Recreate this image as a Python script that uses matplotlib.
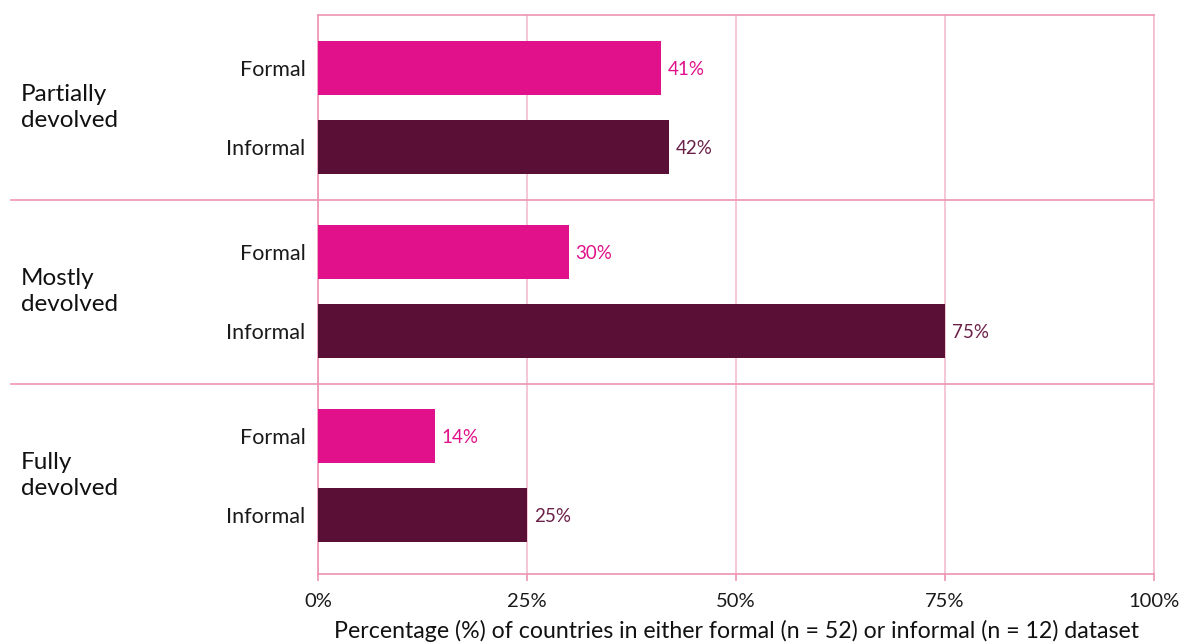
import matplotlib.pyplot as plt
import numpy as np

plt.rcParams['font.family'] = ['Lato', 'DejaVu Sans']

# data
groups = ['Partially\ndevolved', 'Mostly\ndevolved', 'Fully\ndevolved']
formal = [41, 30, 14]
informal = [42, 75, 25]
xticks = [0, 25, 50, 75, 100]
xlabel = 'Percentage (%) of countries in either formal (n = 52) or informal (n = 12) dataset'

c_formal = '#E0118A'
c_informal = '#5A1036'
c_line = '#EE93B2'
c_grid = '#F5BCCF'

fig = plt.figure(figsize=(11.8, 6.42), dpi=100)
ax = fig.add_axes([318 / 1180, 1 - 574 / 642, 836 / 1180, 559 / 642])

g = np.arange(len(groups))
off = 0.215
h = 0.293
ax.barh(g - off, formal, height=h, color=c_formal, zorder=3)
ax.barh(g + off, informal, height=h, color=c_informal, zorder=3)

# value labels
for i in g:
    ax.text(formal[i] + 0.8, i - off + 0.01, f'{formal[i]}%', va='center', ha='left',
            fontsize=13.5, color=c_formal)
    ax.text(informal[i] + 0.8, i + off + 0.01, f'{informal[i]}%', va='center', ha='left',
            fontsize=13.5, color='#6A2048')

ax.set_ylim(2.535, -0.503)
ax.set_xlim(0, 100)

# y tick labels Formal / Informal
yt = np.concatenate([g - off, g + off])
ax.set_yticks(yt)
ax.set_yticklabels(['Formal'] * len(g) + ['Informal'] * len(g), fontsize=15.5, color='#1a1a1a')
ax.tick_params(axis='y', length=0, pad=9)

# group labels
for i, name in enumerate(groups):
    ax.text(-0.355, i, name, transform=ax.get_yaxis_transform(), ha='left', va='center',
            fontsize=17.5, color='#111111', linespacing=1.25)

# separators between groups
for i in range(len(groups) - 1):
    ax.plot([-0.367, 1], [i + 0.5, i + 0.5], transform=ax.get_yaxis_transform(),
            color=c_line, lw=1.2, clip_on=False, zorder=2)

ax.set_xticks(xticks)
ax.set_xticklabels([f'{t}%' for t in xticks], fontsize=14.5, color='#1a1a1a')
ax.tick_params(axis='x', length=5, color=c_line, width=1.2, pad=9)
ax.grid(axis='x', color=c_grid, lw=1.2, zorder=0)
ax.set_xlabel(xlabel, fontsize=16.7, color='#111111', labelpad=7)

for s in ax.spines.values():
    s.set_color(c_line)
    s.set_linewidth(1.2)
ax.spines['right'].set_color(c_grid)

fig.savefig('out.png', dpi=100)
